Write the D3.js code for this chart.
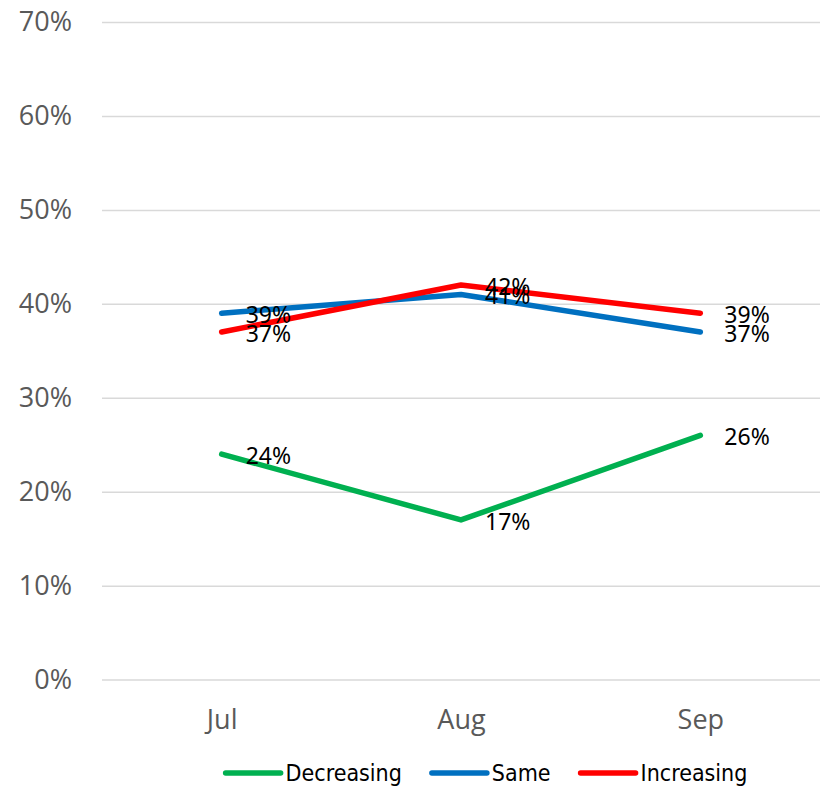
<!DOCTYPE html>
<html>
<head>
<meta charset="utf-8">
<script src="https://cdn.jsdelivr.net/npm/d3@7"></script>
<style>
  html, body { margin: 0; padding: 0; background: #fff; }
  svg { display: block; }
</style>
</head>
<body>
<svg id="chart" width="825" height="789"></svg>
<script>
const months = ["Jul", "Aug", "Sep"];
const decreasing = [0.24, 0.17, 0.26];
const same = [0.39, 0.41, 0.37];
const increasing = [0.37, 0.42, 0.39];
const yTicks = [0, 0.1, 0.2, 0.3, 0.4, 0.5, 0.6, 0.7];

const series = [
  { name: "Decreasing", values: decreasing, color: "#00B050" },
  { name: "Same", values: same, color: "#0070C0" },
  { name: "Increasing", values: increasing, color: "#FF0000" }
];

const svg = d3.select("#chart");
const plotLeft = 102, plotRight = 820, plotTop = 22, plotBottom = 679.6;

const x = d3.scalePoint().domain(months).range([plotLeft, plotRight]).padding(0.5);
const y = d3.scaleLinear().domain([0, 0.7]).range([plotBottom, plotTop]);

// gridlines + y labels
const yAxis = d3.axisLeft(y)
  .tickValues(yTicks)
  .tickFormat(d3.format(".0%"))
  .tickSize(-(plotRight - plotLeft))
  .tickPadding(30);

const gy = svg.append("g")
  .attr("transform", `translate(${plotLeft},0)`)
  .call(yAxis);
gy.select(".domain").remove();
gy.selectAll(".tick line").attr("stroke", "#d9d9d9").attr("stroke-width", 1.5);
gy.selectAll(".tick text")
  .attr("fill", "#595959")
  .attr("font-family", "'Open Sans', sans-serif")
  .attr("font-size", 27);

// x labels
const xAxis = d3.axisBottom(x).tickSize(0).tickPadding(0);
const gx = svg.append("g")
  .attr("transform", `translate(0,${plotBottom})`)
  .call(xAxis);
gx.select(".domain").remove();
gx.selectAll(".tick text")
  .attr("fill", "#595959")
  .attr("font-family", "'Open Sans', sans-serif")
  .attr("font-size", 27)
  .attr("dy", null)
  .attr("y", 49);

// lines
const line = d3.line()
  .x((d, i) => x(months[i]))
  .y(d => y(d));

svg.append("g")
  .selectAll("path")
  .data(series)
  .join("path")
  .attr("d", d => line(d.values))
  .attr("fill", "none")
  .attr("stroke", d => d.color)
  .attr("stroke-width", 5.5)
  .attr("stroke-linecap", "round")
  .attr("stroke-linejoin", "round");

// data labels (right of point)
series.forEach(s => {
  svg.append("g")
    .selectAll("text")
    .data(s.values)
    .join("text")
    .attr("x", (d, i) => x(months[i]) + 24)
    .attr("y", d => y(d) + 1)
    .attr("dominant-baseline", "central")
    .attr("font-family", "'Noto Sans', sans-serif")
    .attr("font-size", 23)
    .attr("fill", "#000")
    .text(d => d3.format(".0%")(d));
});

// legend
const legend = svg.append("g");
const items = legend.selectAll("g")
  .data(series)
  .join("g");
items.append("line")
  .attr("x1", 0).attr("x2", 55)
  .attr("y1", 0).attr("y2", 0)
  .attr("stroke", d => d.color)
  .attr("stroke-width", 5.5)
  .attr("stroke-linecap", "round");
items.append("text")
  .attr("x", 60)
  .attr("dominant-baseline", "central")
  .attr("font-family", "'DejaVu Sans Condensed', 'DejaVu Sans', sans-serif")
  .attr("font-size", 23)
  .attr("fill", "#000")
  .text(d => d.name);

let off = 0;
const widths = [];
items.each(function () {
  const w = 60 + d3.select(this).select("text").node().getComputedTextLength();
  widths.push(w);
});
const gap = 30;
const total = d3.sum(widths) + gap * (widths.length - 1);
const startX = 486.5 - total / 2;
items.attr("transform", (d, i) => {
  const tx = startX + off;
  off += widths[i] + gap;
  return `translate(${tx},773)`;
});
</script>
</body>
</html>
